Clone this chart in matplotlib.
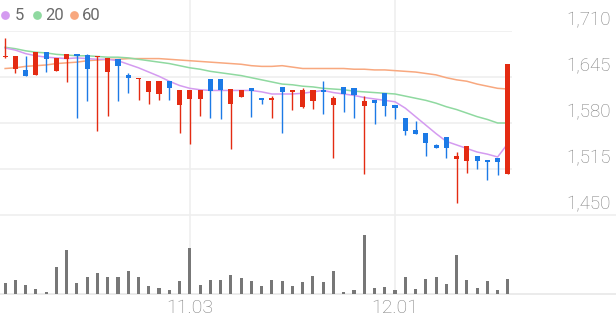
import matplotlib
matplotlib.use("Agg")
import matplotlib.pyplot as plt
from matplotlib.lines import Line2D
from matplotlib import transforms
import numpy as np

# ---------------- data ----------------
opens = [1673, 1656, 1655, 1648, 1681, 1654, 1671, 1678, 1676, 1673,
         1652, 1671, 1648, 1642, 1624, 1621, 1640, 1605, 1614, 1614,
         1642, 1642, 1607, 1617, 1630, 1616, 1612, 1631, 1624, 1603,
         1611, 1627, 1605, 1631, 1630, 1604, 1612, 1622, 1605, 1587,
         1570, 1566, 1549, 1560, 1529, 1527, 1533, 1528, 1531, 1508]
highs = [1700, 1675, 1674, 1681, 1681, 1672, 1678, 1678, 1677, 1674,
         1672, 1671, 1650, 1644, 1640, 1640, 1640, 1626, 1626, 1626,
         1642, 1642, 1628, 1626, 1630, 1616, 1618, 1631, 1626, 1630,
         1626, 1639, 1618, 1631, 1630, 1618, 1613, 1622, 1605, 1587,
         1583, 1566, 1551, 1560, 1539, 1547, 1533, 1528, 1531, 1663]
lows = [1672, 1650, 1647, 1648, 1652, 1654, 1638, 1587, 1611, 1568,
        1590, 1611, 1622, 1612, 1607, 1612, 1612, 1566, 1551, 1590,
        1587, 1585, 1543, 1617, 1588, 1607, 1587, 1566, 1598, 1601,
        1600, 1593, 1531, 1595, 1587, 1508, 1578, 1590, 1585, 1563,
        1565, 1533, 1544, 1530, 1467, 1510, 1515, 1500, 1507, 1508]
closes = [1675, 1675, 1647, 1681, 1670, 1672, 1678, 1675, 1656, 1674,
          1672, 1660, 1643, 1644, 1640, 1640, 1629, 1626, 1626, 1626,
          1625, 1627, 1628, 1626, 1625, 1612, 1615, 1624, 1626, 1627,
          1626, 1624, 1615, 1621, 1620, 1611, 1608, 1604, 1601, 1569,
          1565, 1552, 1544, 1544, 1534, 1547, 1527, 1525, 1525, 1663]
volumes = [110, 137, 87, 53, 17, 267, 443, 110, 167, 210,
           173, 173, 230, 173, 83, 60, 43, 127, 463, 93,
           137, 137, 190, 160, 127, 83, 143, 127, 83, 120,
           183, 120, 233, 17, 43, 587, 60, 70, 37, 170,
           53, 153, 170, 100, 393, 143, 60, 133, 37, 153]
ma5 = [1686, 1683, 1678, 1675, 1673, 1672, 1671, 1672, 1671, 1670,
       1670, 1668, 1663, 1658, 1652, 1646, 1639, 1633, 1629, 1627,
       1626, 1626, 1626, 1626, 1626, 1624, 1621, 1621, 1621, 1622,
       1624, 1626, 1623, 1621, 1619, 1616, 1614, 1612, 1610, 1601,
       1589, 1577, 1565, 1554, 1549, 1544, 1539, 1536, 1532, 1551]
ma20 = [1687, 1685, 1682, 1680, 1679, 1677, 1676, 1675, 1675, 1674,
        1673, 1673, 1672, 1670, 1668, 1666, 1664, 1661, 1658, 1656,
        1653, 1651, 1649, 1647, 1644, 1641, 1638, 1635, 1634, 1632,
        1631, 1629, 1628, 1627, 1625, 1624, 1623, 1622, 1621, 1618,
        1615, 1612, 1608, 1603, 1599, 1594, 1589, 1585, 1580, 1580]
ma60 = [1657, 1658, 1660, 1661, 1662, 1664, 1665, 1666, 1668, 1669,
        1670, 1670, 1671, 1671, 1671, 1671, 1670, 1669, 1668, 1667,
        1666, 1665, 1664, 1663, 1661, 1660, 1660, 1661, 1659, 1657,
        1657, 1657, 1657, 1657, 1656, 1656, 1655, 1655, 1654, 1653,
        1652, 1650, 1648, 1644, 1641, 1639, 1635, 1632, 1629, 1628]
date_ticks = [18, 38]
date_labels = ["11.03", "12.01"]
price_ticks = [1450, 1515, 1580, 1645, 1710]
legend_labels = ["5", "20", "60"]

# ---------------- style ----------------
RED = "#e42b12"
BLUE = "#1c7ae6"
C5, C20, C60 = "#d49bf0", "#8fd9a0", "#f8a87f"
GRID = "#eeeeee"
LBL = "#7f7f7f"
FONT = "Roboto"

W, H = 616, 321
fig = plt.figure(figsize=(W / 100, H / 100), dpi=100)
fig.patch.set_facecolor("white")

def fx(px):
    return px / W

def fy(py):
    return 1 - py / H

axw = fx(512)
ax = fig.add_axes([0, fy(215), axw, fy(31) - fy(215)])
axv = fig.add_axes([0, fy(294), axw, fy(215) - fy(294)])

n = len(closes)
x = np.arange(n)
for a in (ax, axv):
    a.set_xlim(-0.5, 49.4)
    for s in a.spines.values():
        s.set_visible(False)
    a.set_xticks([])
    a.set_yticks([])
    a.patch.set_alpha(0)
ax.set_ylim(1450, 1710)
axv.set_ylim(0, 790)

# grid
for p in price_ticks[1:]:
    ax.axhline(p, color=GRID, lw=1.1, zorder=0)
fig.add_artist(Line2D([0, 1], [fy(215), fy(215)], transform=fig.transFigure,
                      color=GRID, lw=1.1, zorder=0))
fig.add_artist(Line2D([0, 1], [fy(294), fy(294)], transform=fig.transFigure,
                      color="#e6e6e6", lw=1.1, zorder=0))
vt = transforms.blended_transform_factory(ax.transData, fig.transFigure)
for d in date_ticks:
    fig.add_artist(Line2D([d, d], [fy(294), 1], transform=vt, color=GRID, lw=1.1, zorder=0))

# moving averages
ax.plot(x, ma60, color=C60, lw=1.1, zorder=2)
ax.plot(x, ma20, color=C20, lw=1.1, zorder=2)
ax.plot(x, ma5, color=C5, lw=1.1, zorder=2)

# candles
o = np.array(opens, float)
c = np.array(closes, float)
cols = [RED if cc >= oo else BLUE for oo, cc in zip(o, c)]
ax.vlines(x, lows, highs, colors=cols, lw=1.0, zorder=3)
bh = np.maximum(np.abs(c - o), 1.6)
ax.bar(x, bh, bottom=np.minimum(o, c), width=0.5, color=cols, zorder=4, linewidth=0)

# volume
axv.bar(x, volumes, width=0.3, color="#777777", linewidth=0, zorder=3)

# price labels
yt = transforms.blended_transform_factory(fig.transFigure, ax.transData)
yt = transforms.offset_copy(yt, fig=fig, x=0, y=6, units="dots")
for p in price_ticks:
    fig.text(fx(611), p, f"{p:,}", transform=yt, ha="right", va="baseline",
             fontsize=13.5, color=LBL, family=FONT, fontweight="light")

# date labels
dt = transforms.blended_transform_factory(ax.transData, fig.transFigure)
for d, lab in zip(date_ticks, date_labels):
    fig.text(d, fy(308), lab, transform=dt, ha="center", va="center",
             fontsize=14, color=LBL, family=FONT, fontweight="light")

# legend
for cx, tx, col, lab in zip([5, 37, 73.7], [15, 45, 82], [C5, C20, C60], legend_labels):
    fig.add_artist(Line2D([fx(cx)], [fy(15.3)], transform=fig.transFigure, marker="o",
                          ms=6.3, color=col, markeredgewidth=0, linestyle="none"))
    fig.text(fx(tx), fy(15.3), lab, ha="left", va="center", fontsize=12,
             color="#6a6a6a", family=FONT)

fig.savefig("out.png", dpi=100)
